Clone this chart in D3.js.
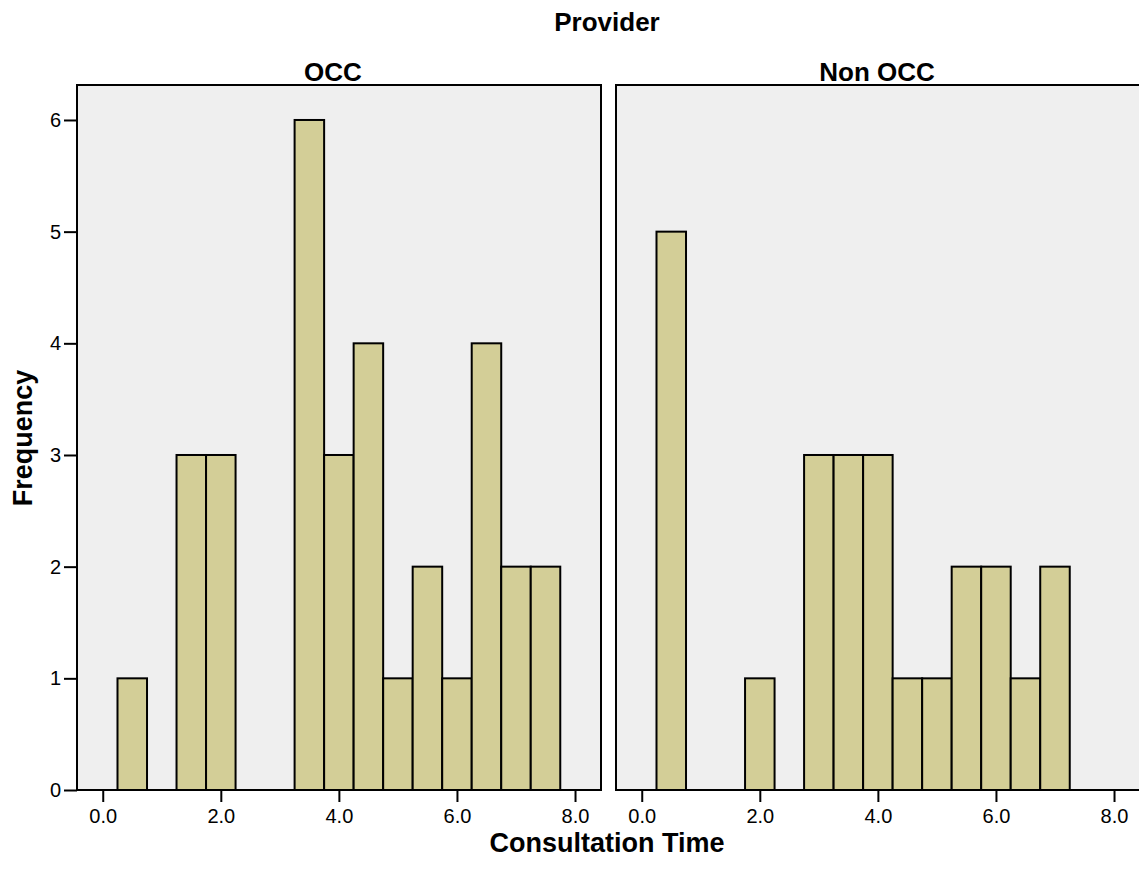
<!DOCTYPE html>
<html>
<head>
<meta charset="utf-8">
<script src="https://cdn.jsdelivr.net/npm/d3@7"></script>
<style>
  body { margin: 0; background: #fff; }
  svg { font-family: "Liberation Sans", Arial, sans-serif; }
  .title { font-weight: bold; }
</style>
</head>
<body>
<div id="chart"></div>
<script>
// bin centres (width 0.5) and counts per provider
var binCenters = [0.5, 1.0, 1.5, 2.0, 2.5, 3.0, 3.5, 4.0, 4.5, 5.0, 5.5, 6.0, 6.5, 7.0, 7.5];
var occCounts    = [1, 0, 3, 3, 0, 0, 6, 3, 4, 1, 2, 1, 4, 2, 2];
var nonOccCounts = [5, 0, 0, 1, 0, 3, 3, 3, 1, 1, 2, 2, 1, 2, 0];
var panelNames = ["OCC", "Non OCC"];
var xTicks = [0, 2, 4, 6, 8];
var yTicks = [0, 1, 2, 3, 4, 5, 6];
var binWidth = 0.5;

var W = 1139, H = 884;
var plotTop = 85, plotBottom = 790;
var panelLeft = [77, 616];
var panelW = 524;
var titleX = [333, 877];

var svg = d3.select("#chart").append("svg")
	.attr("width", W)
	.attr("height", H);

var y = d3.scaleLinear().domain([0, 6]).range([plotBottom, plotBottom - 6 * 111.67]);

var series = [occCounts, nonOccCounts];

series.forEach(function(counts, i){
	var x0 = panelLeft[i];
	var x = d3.scaleLinear().domain([-0.436, 8.44]).range([x0, x0 + panelW]);

	var g = svg.append("g");

	// panel background
	g.append("rect")
		.attr("x", x0)
		.attr("y", plotTop)
		.attr("width", panelW)
		.attr("height", plotBottom - plotTop)
		.attr("fill", "#efefef");

	var bins = binCenters.map(function(c, j){ return {c: c, n: counts[j]}; })
		.filter(function(d){ return d.n > 0; });

	g.selectAll(".bar")
		.data(bins)
		.enter().append("rect")
		.attr("class", "bar")
		.attr("x", function(d){ return x(d.c - binWidth / 2); })
		.attr("width", function(d){ return x(d.c + binWidth / 2) - x(d.c - binWidth / 2); })
		.attr("y", function(d){ return y(d.n); })
		.attr("height", function(d){ return y(0) - y(d.n); })
		.attr("fill", "#d3ce97")
		.attr("stroke", "#000")
		.attr("stroke-width", 2);

	// panel frame (right panel is cut off at the page edge)
	g.append("rect")
		.attr("x", x0)
		.attr("y", plotTop)
		.attr("width", panelW)
		.attr("height", plotBottom - plotTop)
		.attr("fill", "none")
		.attr("stroke", "#000")
		.attr("stroke-width", 2);

	// x axis
	var xAxis = d3.axisBottom(x)
		.tickValues(xTicks)
		.tickSize(12)
		.tickPadding(7)
		.tickFormat(d3.format(".1f"));
	var gx = g.append("g")
		.attr("transform", "translate(0," + plotBottom + ")")
		.call(xAxis);
	gx.select(".domain").remove();
	gx.selectAll("line").attr("stroke-width", 2);
	gx.selectAll("text").attr("font-size", 20).attr("fill", "#000");

	// panel title
	g.append("text")
		.attr("class", "title")
		.attr("x", titleX[i])
		.attr("y", 81)
		.attr("text-anchor", "middle")
		.attr("font-size", 26)
		.text(panelNames[i]);
});

// y axis on left panel
var yAxis = d3.axisLeft(y)
	.tickValues(yTicks)
	.tickSize(13)
	.tickPadding(3)
	.tickFormat(d3.format("d"));
var gy = svg.append("g")
	.attr("transform", "translate(" + panelLeft[0] + ",0)")
	.call(yAxis);
gy.select(".domain").remove();
gy.selectAll("line").attr("stroke-width", 2);
gy.selectAll("text").attr("font-size", 20).attr("fill", "#000");

svg.append("text")
	.attr("class", "title")
	.attr("x", 607)
	.attr("y", 31)
	.attr("text-anchor", "middle")
	.attr("font-size", 26)
	.text("Provider");

svg.append("text")
	.attr("class", "title")
	.attr("x", 607)
	.attr("y", 852)
	.attr("text-anchor", "middle")
	.attr("font-size", 27)
	.text("Consultation Time");

svg.append("text")
	.attr("class", "title")
	.attr("transform", "translate(32,438) rotate(-90)")
	.attr("text-anchor", "middle")
	.attr("font-size", 27)
	.text("Frequency");
</script>
</body>
</html>
